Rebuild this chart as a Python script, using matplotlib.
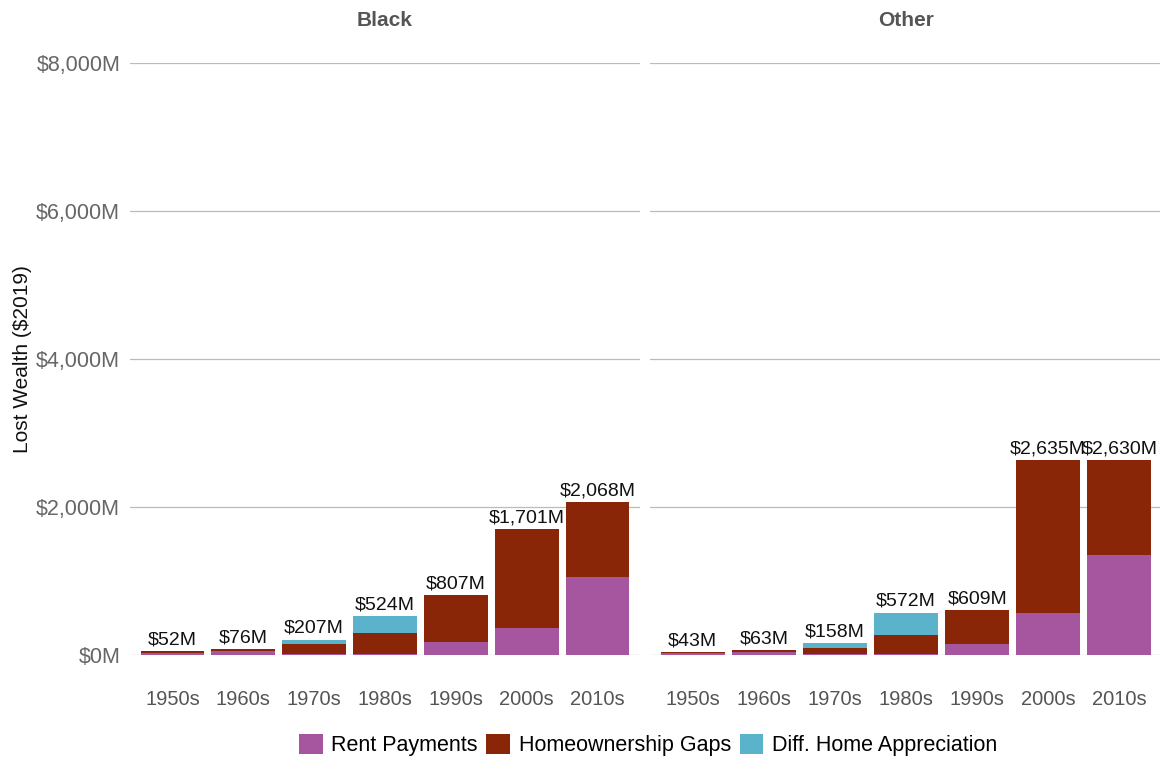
import matplotlib
matplotlib.use("Agg")
import matplotlib.pyplot as plt
from matplotlib.patches import Patch
import numpy as np

plt.rcParams['font.family'] = ['Liberation Sans', 'DejaVu Sans']

decades = ["1950s", "1960s", "1970s", "1980s", "1990s", "2000s", "2010s"]
panels = ["Black", "Other"]

# Values in $M (2019)
black_rent = [30, 55, 10, 20, 176, 370, 1054]
black_home = [22, 21, 140, 280, 631, 1331, 1014]
black_appr = [0, 0, 57, 224, 0, 0, 0]
black_total = [52, 76, 207, 524, 807, 1701, 2068]

other_rent = [25, 35, 10, 15, 150, 567, 1351]
other_home = [18, 28, 85, 255, 459, 2068, 1279]
other_appr = [0, 0, 63, 302, 0, 0, 0]
other_total = [43, 63, 158, 572, 609, 2635, 2630]

series_names = ["Rent Payments", "Homeownership Gaps", "Diff. Home Appreciation"]
colors = ["#a6559f", "#8a2608", "#5ab3cb"]

W, H = 1160, 759
fig = plt.figure(figsize=(W / 100, H / 100), dpi=100)

def axrect(x0, y0, x1, y1):
    return [x0 / W, 1 - y1 / H, (x1 - x0) / W, (y1 - y0) / H]

ax1 = fig.add_axes(axrect(130, 63, 640, 655))
ax2 = fig.add_axes(axrect(650, 63, 1162, 655))

data = {
    "Black": (black_rent, black_home, black_appr, black_total),
    "Other": (other_rent, other_home, other_appr, other_total),
}

x = np.arange(len(decades))
for ax, name in zip([ax1, ax2], panels):
    rent, home, appr, total = data[name]
    rent = np.array(rent); home = np.array(home); appr = np.array(appr)
    ax.bar(x, rent, width=0.9, color=colors[0], zorder=2)
    ax.bar(x, home, width=0.9, bottom=rent, color=colors[1], zorder=2)
    ax.bar(x, appr, width=0.9, bottom=rent + home, color=colors[2], zorder=2)
    for xi, t in zip(x, total):
        ax.annotate(f"${t:,}M", (xi, rent[xi] + home[xi] + appr[xi]),
                    xytext=(0, 2), textcoords="offset points",
                    ha="center", va="bottom", fontsize=14, color="#111111")
    ax.set_xlim(-0.6, 6.6)
    ax.set_ylim(0, 8000)
    ax.set_yticks([0, 2000, 4000, 6000, 8000])
    ax.grid(axis="y", color="#bbbbbb", linewidth=0.9, zorder=0)
    ax.set_xticks(x)
    ax.set_xticklabels(decades, fontsize=14.5, color="#555555")
    ax.tick_params(axis="x", length=0, pad=25)
    ax.tick_params(axis="y", length=0)
    for s in ax.spines.values():
        s.set_visible(False)
    ax.set_title(name, fontsize=15, fontweight="bold", color="#555555", pad=27)

ax1.set_yticklabels([f"${v:,}M" for v in [0, 2000, 4000, 6000, 8000]],
                    fontsize=15.5, color="#666666")
ax1.tick_params(axis="y", pad=7)
ax2.set_yticklabels([])
ax1.set_ylabel("Lost Wealth ($2019)", fontsize=15, color="#111111", labelpad=3)

handles = [Patch(facecolor=c, edgecolor="none") for c in colors]
fig.legend(handles, series_names, loc="center", bbox_to_anchor=(648 / W, 1 - 745 / H),
           ncol=3, frameon=False, fontsize=15.5, handlelength=1.1, handleheight=1.1,
           handletextpad=0.4, columnspacing=0.4)

fig.savefig("out.png", dpi=100)
